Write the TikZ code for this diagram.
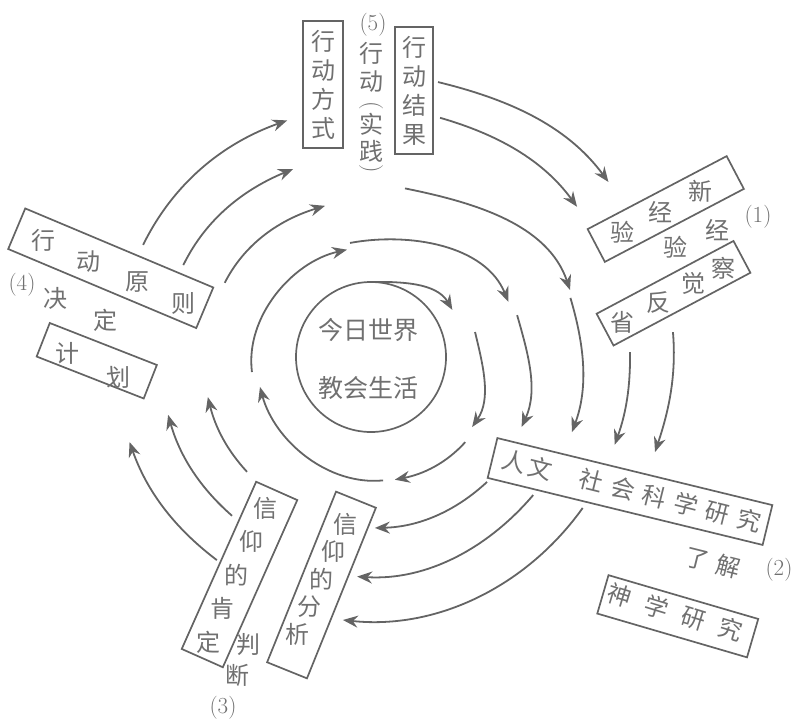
\documentclass[tikz,border=0pt]{standalone}
\usepackage{fontspec}
\newfontfamily\cjk{Noto Sans CJK SC}
\usetikzlibrary{arrows.meta,calc}
\definecolor{lc}{RGB}{100,100,100}
\definecolor{tc}{RGB}{112,112,112}
\tikzset{
 arr/.style={draw=lc, line width=1.8pt, -{Stealth[length=15pt,width=12pt,inset=5pt]}},
 boxs/.style={draw=lc, line width=1.7pt, inner sep=0pt},
 ch/.style={text=tc, font=\cjk\fontsize{24}{29}\selectfont, inner sep=0pt},
 hubt/.style={text=tc, font=\cjk\fontsize{25}{30}\selectfont, inner sep=0pt},
 num/.style={text=tc, font=\fontsize{23}{26}\selectfont, inner sep=0pt},
 par/.style={text=tc, font=\fontsize{24}{24}\selectfont, inner sep=0pt, rotate=-90},
}
\newcommand\spir[5]{%
 \coordinate (#1s) at ($(C)+(#2:#3)$);
 \coordinate (#1e) at ($(C)+(#4:#5)$);
 \pgfmathsetmacro\spOut{#2-90}%
 \pgfmathsetmacro\spIn{#4+90}%
 \draw[arr] (#1s) to[out=\spOut, in=\spIn, looseness=0.92] (#1e);}
\begin{document}
\begin{tikzpicture}[x=1pt,y=1pt]
\useasboundingbox (0,0) rectangle (794,-720);
\coordinate (C) at (371,-357);
% hub
\node[boxs, circle, minimum size=150pt] (hub) at (C) {};
\node[hubt] (hub1) at (368,-330) {今日世界};
\node[hubt] (hub2) at (368,-388) {教会生活};
% (5) action
\node[boxs, ch, align=center, minimum width=40pt, minimum height=127pt] (xdfs) at (323,-84.5) {行\\动\\方\\式};
\node[boxs, ch, align=center, minimum width=38pt, minimum height=127pt] (xdjg) at (414,-90.5) {行\\动\\结\\果};
\node[num] (n5) at (373,-25) {(5)};
\node[ch] (c5a) at (371,-53) {行};
\node[ch] (c5b) at (371,-82) {动};
\node[par] (c5p1) at (371,-106) {(};
\node[ch] (c5c) at (371,-124) {实};
\node[ch] (c5d) at (371,-151) {践};
\node[par] (c5p2) at (371,-169) {)};
% (1) experience
\node[boxs, minimum width=157pt, minimum height=37pt, rotate=27.7] (xjy) at (665.75,-209) {};
\node[ch] (xjy1) at (700,-191) {新};
\node[ch] (xjy2) at (660,-212) {经};
\node[ch] (xjy3) at (622,-232) {验};
\node[ch] (jy1) at (717,-230) {经};
\node[ch] (jy2) at (675,-247) {验};
\node[num] (n1) at (758,-217) {(1)};
\node[boxs, minimum width=155pt, minimum height=36pt, rotate=28] (fx) at (673.5,-293.25) {};
\node[ch] (fx1) at (723,-268) {察};
\node[ch] (fx2) at (693,-283) {觉};
\node[ch] (fx3) at (658,-303) {反};
\node[ch] (fx4) at (622,-322) {省};
% (2) understanding
\node[boxs, minimum width=283pt, minimum height=41pt, rotate=-13.7] (rw) at (630,-491.5) {};
\node[ch, rotate=-14] (rwt) at (632,-491) {人\hspace{3pt}文\hspace{28pt}社\hspace{8.6pt}会\hspace{8.6pt}科\hspace{8.6pt}学\hspace{8.6pt}研\hspace{8.6pt}究};
\node[ch, rotate=-14] (lj) at (712.5,-562.5) {了\hspace{8pt}解};
\node[num] (n2) at (779,-570) {(2)};
\node[boxs, minimum width=156pt, minimum height=40pt, rotate=-16.3] (sx) at (677.75,-616.25) {};
\node[ch, rotate=-17] (sxt) at (675,-612.5) {神\hspace{14.5pt}学\hspace{14.5pt}研\hspace{14.5pt}究};
% (3) judgement
\node[boxs, minimum width=45pt, minimum height=183pt, rotate=-24] (xykd) at (239.5,-574.5) {};
\node[ch] (kd1) at (265,-508) {信};
\node[ch] (kd2) at (251,-541.5) {仰};
\node[ch] (kd3) at (236.5,-575) {的};
\node[ch] (kd4) at (222,-608.5) {肯};
\node[ch] (kd5) at (208,-642) {定};
\node[ch] (pd1) at (248,-645) {判};
\node[ch] (pd2) at (237,-675) {断};
\node[num] (n3) at (223,-708) {(3)};
\node[boxs, minimum width=43pt, minimum height=184pt, rotate=-22] (xyfx) at (321.5,-585) {};
\node[ch] (fxa) at (345,-524) {信};
\node[ch] (fxb) at (333,-551.5) {仰};
\node[ch] (fxc) at (321,-579) {的};
\node[ch] (fxd) at (309,-606.5) {分};
\node[ch] (fxe) at (297,-634) {析};
% (4) decision
\node[boxs, minimum width=204pt, minimum height=44pt, rotate=-22.8] (xdyz) at (110.75,-268.25) {};
\node[ch] (yz1) at (43,-240) {行};
\node[ch] (yz2) at (88,-262) {动};
\node[ch] (yz3) at (137,-282) {原};
\node[ch] (yz4) at (183,-303) {则};
\node[num] (n4) at (22,-285) {(4)};
\node[ch] (jd1) at (55,-298) {决};
\node[ch] (jd2) at (105,-320) {定};
\node[boxs, minimum width=115pt, minimum height=36pt, rotate=-21.4] (jh) at (96.75,-360.75) {};
\node[ch] (jh1) at (67,-353) {计};
\node[ch] (jh2) at (118,-377) {划};
% spiral arrows
\spir{a1}{76.3}{283}{36.4}{295}
\spir{a2}{73.9}{249}{36.1}{255}
\spir{a3}{78.6}{172}{18.6}{210}
\spir{a4}{100.4}{116}{21.9}{148}
\spir{a5}{91}{75}{30.1}{94}
\spir{b1}{13.5}{107}{-34.7}{123}
\spir{b2}{16}{152}{-24.9}{166}
\spir{b3}{16.5}{208}{-20.5}{214.5}
\spir{b4}{1.1}{259}{-19.8}{259}
\spir{b5}{4.7}{303}{-18.5}{299.5}
\spir{c1}{-42.1}{127}{-79}{125}
\spir{c2}{-47.1}{170.5}{-88.7}{171}
\spir{c3}{-40.4}{213}{-93.6}{220}
\spir{c4}{-35.5}{260}{-96.1}{264.5}
\spir{d1}{-84.4}{124}{-164.9}{115}
\spir{d2}{-137.2}{169}{-166.2}{168}
\spir{d3}{-131.2}{211}{-164.1}{211}
\spir{d4}{-127.2}{255}{-160.6}{256}
\spir{e1}{153.8}{254}{109.5}{251}
\spir{e2}{153.9}{209}{112.5}{203.5}
\spir{e3}{153.1}{164}{106.9}{158}
\spir{e4}{187.2}{120}{102.6}{110}
\end{tikzpicture}
\end{document}
